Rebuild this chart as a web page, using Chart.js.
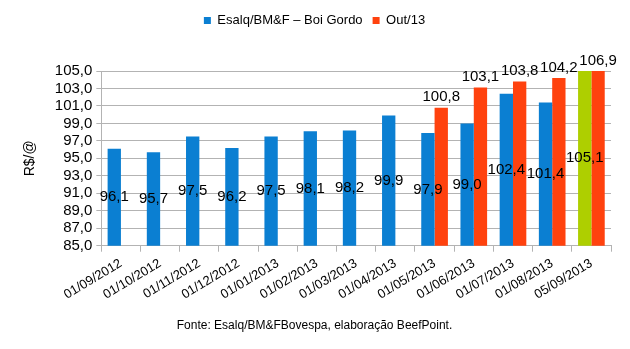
<!DOCTYPE html>
<html>
<head>
<meta charset="utf-8">
<script src="https://cdn.jsdelivr.net/npm/chart.js@4/dist/chart.umd.min.js"></script>
<style>
  html, body { margin: 0; padding: 0; background: #fff; }
  #wrap { width: 630px; height: 349px; }
</style>
</head>
<body>
<div id="wrap"><canvas id="chartBoi" width="630" height="349"></canvas></div>
<script>
// Indicador do boi gordo e contrato Out/13
var datas = ['01/09/2012', '01/10/2012', '01/11/2012', '01/12/2012', '01/01/2013', '01/02/2013',
  '01/03/2013', '01/04/2013', '01/05/2013', '01/06/2013', '01/07/2013', '01/08/2013', '05/09/2013'];
var boiGordo = [96.1, 95.7, 97.5, 96.2, 97.5, 98.1, 98.2, 99.9, 97.9, 99.0, 102.4, 101.4, 105.1];
var out13 = [null, null, null, null, null, null, null, null, 100.8, 103.1, 103.8, 104.2, 106.9];

var azul = '#0b7fd2';
var vermelho = '#ff420e';
var coresBoi = boiGordo.map(function(v, i) { return i === boiGordo.length - 1 ? '#aecf00' : azul; });
var fonte = '"Liberation Sans", Arial, sans-serif';

function fmt(v) { return v.toFixed(1).replace('.', ','); }

// rótulos: azul no meio da barra, vermelho acima
var rotulos = {
  id: 'rotulos',
  afterDatasetsDraw: function(chart) {
    var ctx = chart.ctx;
    var area = chart.chartArea;
    ctx.save();
    ctx.font = '15px ' + fonte;
    ctx.fillStyle = '#000';
    ctx.textAlign = 'center';
    chart.data.datasets.forEach(function(ds, di) {
      chart.getDatasetMeta(di).data.forEach(function(el, i) {
        var v = ds.data[i];
        if (v === null) return;
        var top = Math.max(chart.scales.y.getPixelForValue(v), area.top);
        if (di === 0) {
          ctx.textBaseline = 'middle';
          ctx.fillText(fmt(v), el.x, (top + area.bottom) / 2);
        } else {
          ctx.textBaseline = 'bottom';
          ctx.fillText(fmt(v), el.x, top - 3);
        }
      });
    });
    ctx.restore();
  }
};

// espaço extra entre a legenda e o gráfico
var margemLegenda = {
  id: 'margemLegenda',
  beforeInit: function(chart) {
    var fit = chart.legend.fit;
    chart.legend.fit = function() {
      fit.bind(chart.legend)();
      this.height += 34;
    };
  }
};

const ctx = document.getElementById('chartBoi').getContext('2d');
new Chart(ctx, {
  type: 'bar',
  data: {
    labels: datas,
    datasets: [{
      label: 'Esalq/BM&F – Boi Gordo',
      data: boiGordo,
      backgroundColor: coresBoi
    }, {
      label: 'Out/13',
      data: out13,
      backgroundColor: vermelho
    }]
  },
  options: {
    responsive: false,
    animation: false,
    categoryPercentage: 0.68,
    barPercentage: 1.0,
    layout: { padding: { left: 18, right: 19, top: 4, bottom: 0 } },
    plugins: {
      legend: {
        position: 'top',
        labels: {
          boxWidth: 7, boxHeight: 7, padding: 10,
          color: '#000',
          font: { size: 13, family: fonte },
          generateLabels: function(chart) {
            return chart.data.datasets.map(function(ds, i) {
              return { text: ds.label, fillStyle: i === 0 ? azul : vermelho, strokeStyle: 'transparent', lineWidth: 0, datasetIndex: i };
            });
          }
        }
      },
      title: {
        display: true,
        position: 'bottom',
        text: 'Fonte: Esalq/BM&FBovespa, elaboração BeefPoint.',
        color: '#000',
        font: { size: 12, weight: 'normal', family: fonte },
        padding: { top: 12, bottom: 16 }
      },
      tooltip: { enabled: false }
    },
    scales: {
      x: {
        grid: { offset: true, drawOnChartArea: false, tickLength: 6, color: '#b3b3b3' },
        border: { color: '#b3b3b3' },
        ticks: {
          color: '#000', maxRotation: 31, minRotation: 31, autoSkip: false, padding: 4,
          font: { size: 13, family: fonte }
        }
      },
      y: {
        min: 85, max: 105,
        grid: { color: '#b3b3b3', tickLength: 5 },
        border: { color: '#b3b3b3' },
        title: {
          display: true, text: 'R$/@', color: '#000',
          font: { size: 14, family: fonte },
          padding: { bottom: 12 }
        },
        ticks: {
          stepSize: 2, color: '#000', padding: 4, autoSkip: false,
          font: { size: 15, family: fonte },
          callback: function(v) { return fmt(v); }
        }
      }
    }
  },
  plugins: [rotulos, margemLegenda]
});
</script>
</body>
</html>
